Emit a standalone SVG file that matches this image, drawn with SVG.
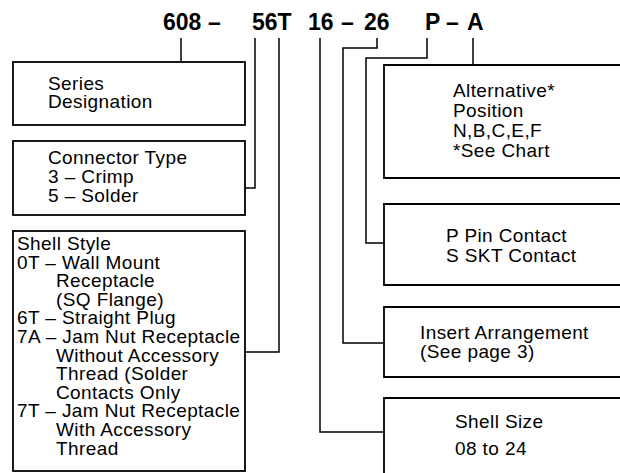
<svg xmlns="http://www.w3.org/2000/svg" width="620" height="473" viewBox="0 0 620 473">
<style>
.box{fill:none;stroke:#000;stroke-width:1.8}
.ln{fill:none;stroke:#000;stroke-width:1.5}
text{font-family:"Liberation Sans",Arial,sans-serif;font-size:19px;letter-spacing:0.4px;fill:#000}
.t{font-size:23px;font-weight:bold;letter-spacing:0}
</style>
<rect width="620" height="473" fill="#fff"/>
<g id="title">
<text class="t" x="163" y="30">608</text>
<text class="t" x="208" y="30">–</text>
<text class="t" x="252" y="30">56T</text>
<text class="t" x="308" y="30">16</text>
<text class="t" x="341" y="30">–</text>
<text class="t" x="364" y="30">26</text>
<text class="t" x="425" y="30">P</text>
<text class="t" x="446" y="30">–</text>
<text class="t" x="467" y="30">A</text>
</g>
<g id="connectors">
<path class="ln" d="M181 38V62"/>
<path class="ln" d="M255 38V188H245"/>
<path class="ln" d="M279 38V352H245"/>
<path class="ln" d="M320 38V432H384"/>
<path class="ln" d="M377 38V48H343V343H384"/>
<path class="ln" d="M427 38V58H366V243H384"/>
<path class="ln" d="M473 38V65"/>
</g>
<g id="series">
<rect class="box" x="13" y="62" width="232" height="63"/>
<text x="48" y="90">Series</text>
<text x="48" y="108">Designation</text>
</g>
<g id="connector-type">
<rect class="box" x="13" y="141" width="232" height="74"/>
<text x="48" y="164">Connector Type</text>
<text x="48" y="183">3 – Crimp</text>
<text x="48" y="202">5 – Solder</text>
</g>
<g id="shell-style">
<rect class="box" x="13" y="231" width="232" height="240"/>
<text x="17" y="250">Shell Style</text>
<text x="17" y="268.6">0T – Wall Mount</text>
<text x="56" y="287.2">Receptacle</text>
<text x="56" y="305.8">(SQ Flange)</text>
<text x="17" y="324.4">6T – Straight Plug</text>
<text x="17" y="343">7A – Jam Nut Receptacle</text>
<text x="56" y="361.6">Without Accessory</text>
<text x="56" y="380.2">Thread (Solder</text>
<text x="56" y="398.8">Contacts Only</text>
<text x="17" y="417.4">7T – Jam Nut Receptacle</text>
<text x="56" y="436">With Accessory</text>
<text x="56" y="454.6">Thread</text>
</g>
<g id="alternative">
<path class="box" d="M622 65H384V178H622"/>
<text x="453" y="97">Alternative*</text>
<text x="453" y="117">Position</text>
<text x="453" y="137">N,B,C,E,F</text>
<text x="453" y="157">*See Chart</text>
</g>
<g id="contact">
<path class="box" d="M622 204H384V285H622"/>
<text x="446" y="242">P Pin Contact</text>
<text x="446" y="262">S SKT Contact</text>
</g>
<g id="insert">
<path class="box" d="M622 307H384V377H622"/>
<text x="420" y="339">Insert Arrangement</text>
<text x="420" y="358">(See page 3)</text>
</g>
<g id="shell-size">
<path class="box" d="M622 398H384V475"/>
<text x="455" y="428">Shell Size</text>
<text x="455" y="455">08 to 24</text>
</g>
</svg>
